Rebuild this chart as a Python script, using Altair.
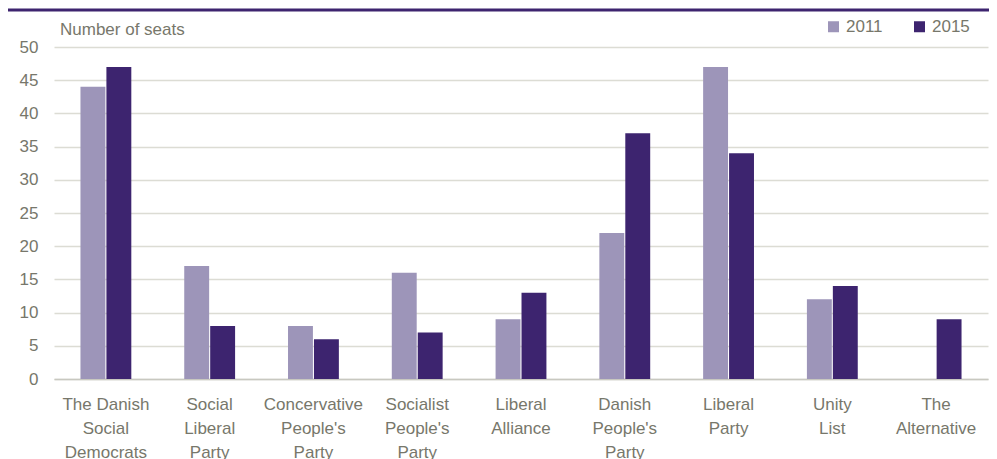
import altair as alt
import pandas as pd

parties = [
    "The Danish\nSocial\nDemocrats",
    "Social\nLiberal\nParty",
    "Concervative\nPeople's\nParty",
    "Socialist\nPeople's\nParty",
    "Liberal\nAlliance",
    "Danish\nPeople's\nParty",
    "Liberal\nParty",
    "Unity\nList",
    "The\nAlternative",
]
seats_2011 = [44, 17, 8, 16, 9, 22, 47, 12, None]
seats_2015 = [47, 8, 6, 7, 13, 37, 34, 14, 9]
years = ["2011", "2015"]
colors = ["#9d95b9", "#3d246f"]
y_ticks = [0, 5, 10, 15, 20, 25, 30, 35, 40, 45, 50]
y_title = "Number of seats"

rows = []
for p, a, b in zip(parties, seats_2011, seats_2015):
    if a is not None:
        rows.append({"party": p, "year": "2011", "seats": a})
    if b is not None:
        rows.append({"party": p, "year": "2015", "seats": b})
df = pd.DataFrame(rows)
title_df = pd.DataFrame({"label": [y_title]})

FONT = "Liberation Sans"
FS = 17
TXT = "#77776b"

bars = alt.Chart(df).mark_bar().encode(
    x=alt.X(
        "party:N",
        sort=parties,
        scale=alt.Scale(paddingInner=0.51, paddingOuter=0.255),
        axis=alt.Axis(
            title=None,
            labelAngle=0,
            labelExpr="split(datum.label, '\\n')",
            labelFontSize=FS,
            labelFont=FONT,
            labelColor=TXT,
            labelLineHeight=24,
            labelPadding=17,
            labelLimit=0,
            ticks=False,
            domainColor="#c8c8c0",
            domainWidth=1.5,
            grid=False,
        ),
    ),
    xOffset=alt.XOffset("year:N", sort=years, scale=alt.Scale(paddingInner=0.04)),
    y=alt.Y(
        "seats:Q",
        scale=alt.Scale(domain=[0, 50]),
        axis=alt.Axis(
            title=None,
            values=y_ticks,
            labelFontSize=FS,
            labelFont=FONT,
            labelColor=TXT,
            labelPadding=16,
            ticks=False,
            domain=False,
            gridColor="#dcdcd4",
            gridWidth=1.5,
        ),
    ),
    color=alt.Color(
        "year:N",
        scale=alt.Scale(domain=years, range=colors),
        legend=alt.Legend(
            title=None,
            orient="none",
            legendX=771,
            legendY=-29,
            direction="horizontal",
            symbolType="square",
            symbolSize=121,
            symbolStrokeWidth=0,
            labelFontSize=FS,
            labelFont=FONT,
            labelColor=TXT,
            labelOffset=4,
            columnPadding=28,
            padding=0,
        ),
    ),
)

title = alt.Chart(title_df).mark_text(
    align="left", baseline="middle", font=FONT, fontSize=FS, color=TXT
).encode(x=alt.value(6), y=alt.value(-17), text="label:N")

topline = alt.Chart(title_df).mark_rule(color="#3d246f", strokeWidth=3).encode(
    x=alt.value(-60), x2=alt.value(960), y=alt.value(-37)
)

chart = alt.layer(bars, title, topline).properties(
    width=934,
    height=332,
    autosize=alt.AutoSizeParams(type="none"),
    padding={"left": 46, "top": 39, "right": 1, "bottom": 80},
).configure_view(stroke=None)

chart.save("out.html", embed_options={"renderer": "svg", "actions": False})
